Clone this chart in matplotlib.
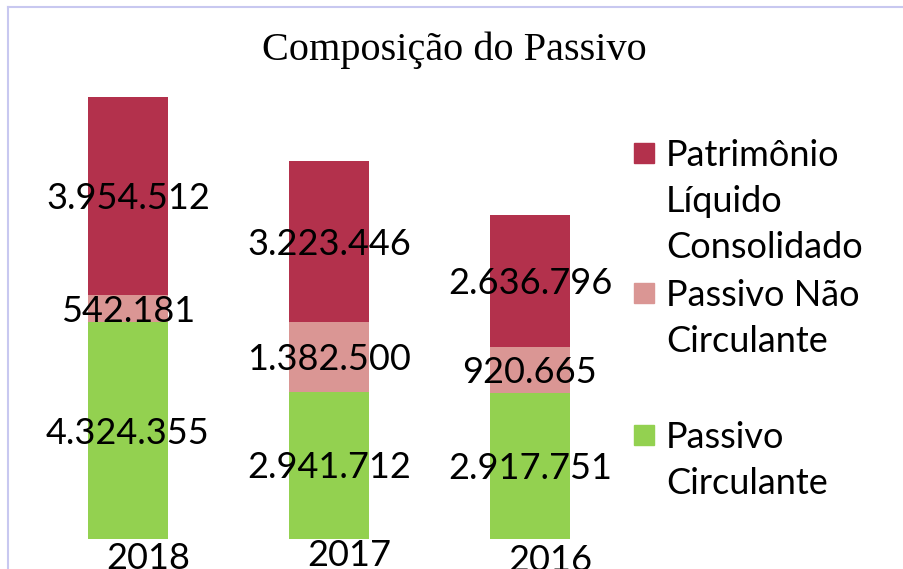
import matplotlib
matplotlib.use("Agg")
import matplotlib.pyplot as plt
from matplotlib.patches import Rectangle
from matplotlib.lines import Line2D

categories = ["2018", "2017", "2016"]
passivo_circulante = [4324355, 2941712, 2917751]
passivo_nao_circulante = [542181, 1382500, 920665]
patrimonio_liquido = [3954512, 3223446, 2636796]
series_names = [["Patrimônio", "Líquido", "Consolidado"], ["Passivo Não", "Circulante"], ["Passivo", "Circulante"]]

c_red = "#B3314C"
c_pink = "#DA9694"
c_green = "#93D150"

W, H = 904, 569
fig = plt.figure(figsize=(W / 100, H / 100), dpi=100)
fig.patch.set_facecolor("white")

font = "Lato"

# axes in pixel coordinates
ax_left_px, ax_right_px = 8, 620
ax_top_px, ax_bottom_px = 60, 539
ax = fig.add_axes([ax_left_px / W, (H - ax_bottom_px) / H,
                   (ax_right_px - ax_left_px) / W, (ax_bottom_px - ax_top_px) / H])
ax.set_axis_off()

x0_px, step_px = 128, 201
ax.set_xlim((ax_left_px - x0_px) / step_px, (ax_right_px - x0_px) / step_px)
tot0 = passivo_circulante[0] + passivo_nao_circulante[0] + patrimonio_liquido[0]
ppu = (539 - 97) / tot0
ax.set_ylim(0, (ax_bottom_px - ax_top_px) / ppu)

x = list(range(len(categories)))
bw = 80 / 201
ax.bar(x, passivo_circulante, width=bw, color=c_green)
bottom2 = passivo_circulante
ax.bar(x, passivo_nao_circulante, width=bw, bottom=bottom2, color=c_pink)
bottom3 = [a + b for a, b in zip(passivo_circulante, passivo_nao_circulante)]
ax.bar(x, patrimonio_liquido, width=bw, bottom=bottom3, color=c_red)

def fmt(v):
    return f"{v:,}".replace(",", ".")

fs = 26
half_digit = 13  # pixels: put the digits' middle on the anchor
def label(i, y, txt, extra=0):
    ax.annotate(txt, xy=(i, y), xytext=(0, -half_digit + extra), textcoords="offset pixels",
                ha="center", va="baseline", fontsize=fs, family=font, color="black")

for i in x:
    label(i, passivo_circulante[i] / 2, fmt(passivo_circulante[i]))
    label(i, bottom2[i] + passivo_nao_circulante[i] / 2, fmt(passivo_nao_circulante[i]))
    label(i, bottom3[i] + patrimonio_liquido[i] / 2, fmt(patrimonio_liquido[i]))

# category labels (shifted as in the reference; cut by the lower edge as there)
cat_dy = [-3, 0, -5]
for i, c in enumerate(categories):
    ax.annotate(c, xy=(i, 0), xytext=(20, cat_dy[i]), textcoords="offset pixels",
                ha="center", va="top", fontsize=fs, family=font, color="black",
                annotation_clip=False)

# title
fig.text(454 / W, 1 - 50 / H, "Composição do Passivo", ha="center", va="center",
         fontsize=29, family="Liberation Serif", color="black")

# legend
leg_colors = [c_red, c_pink, c_green]
leg_y = [153, 293, 435]
line_step = 46
for col, lines, yy in zip(leg_colors, series_names, leg_y):
    fig.patches.append(Rectangle((634 / W, 1 - (yy + 10) / H), 20 / W, 20 / H,
                                 transform=fig.transFigure, color=col))
    for k, ln in enumerate(lines):
        fig.text(666 / W, 1 - (yy + k * line_step + half_digit) / H, ln, ha="left", va="baseline",
                 fontsize=fs, family=font, color="black")

# border
bc = "#C8C8F0"
fig.add_artist(Line2D([8 / W, 1], [1 - 7 / H, 1 - 7 / H], color=bc, lw=1.5, transform=fig.transFigure))
fig.add_artist(Line2D([8 / W, 8 / W], [0, 1 - 7 / H], color=bc, lw=1.5, transform=fig.transFigure))

fig.savefig("out.png", dpi=100, facecolor="white")
